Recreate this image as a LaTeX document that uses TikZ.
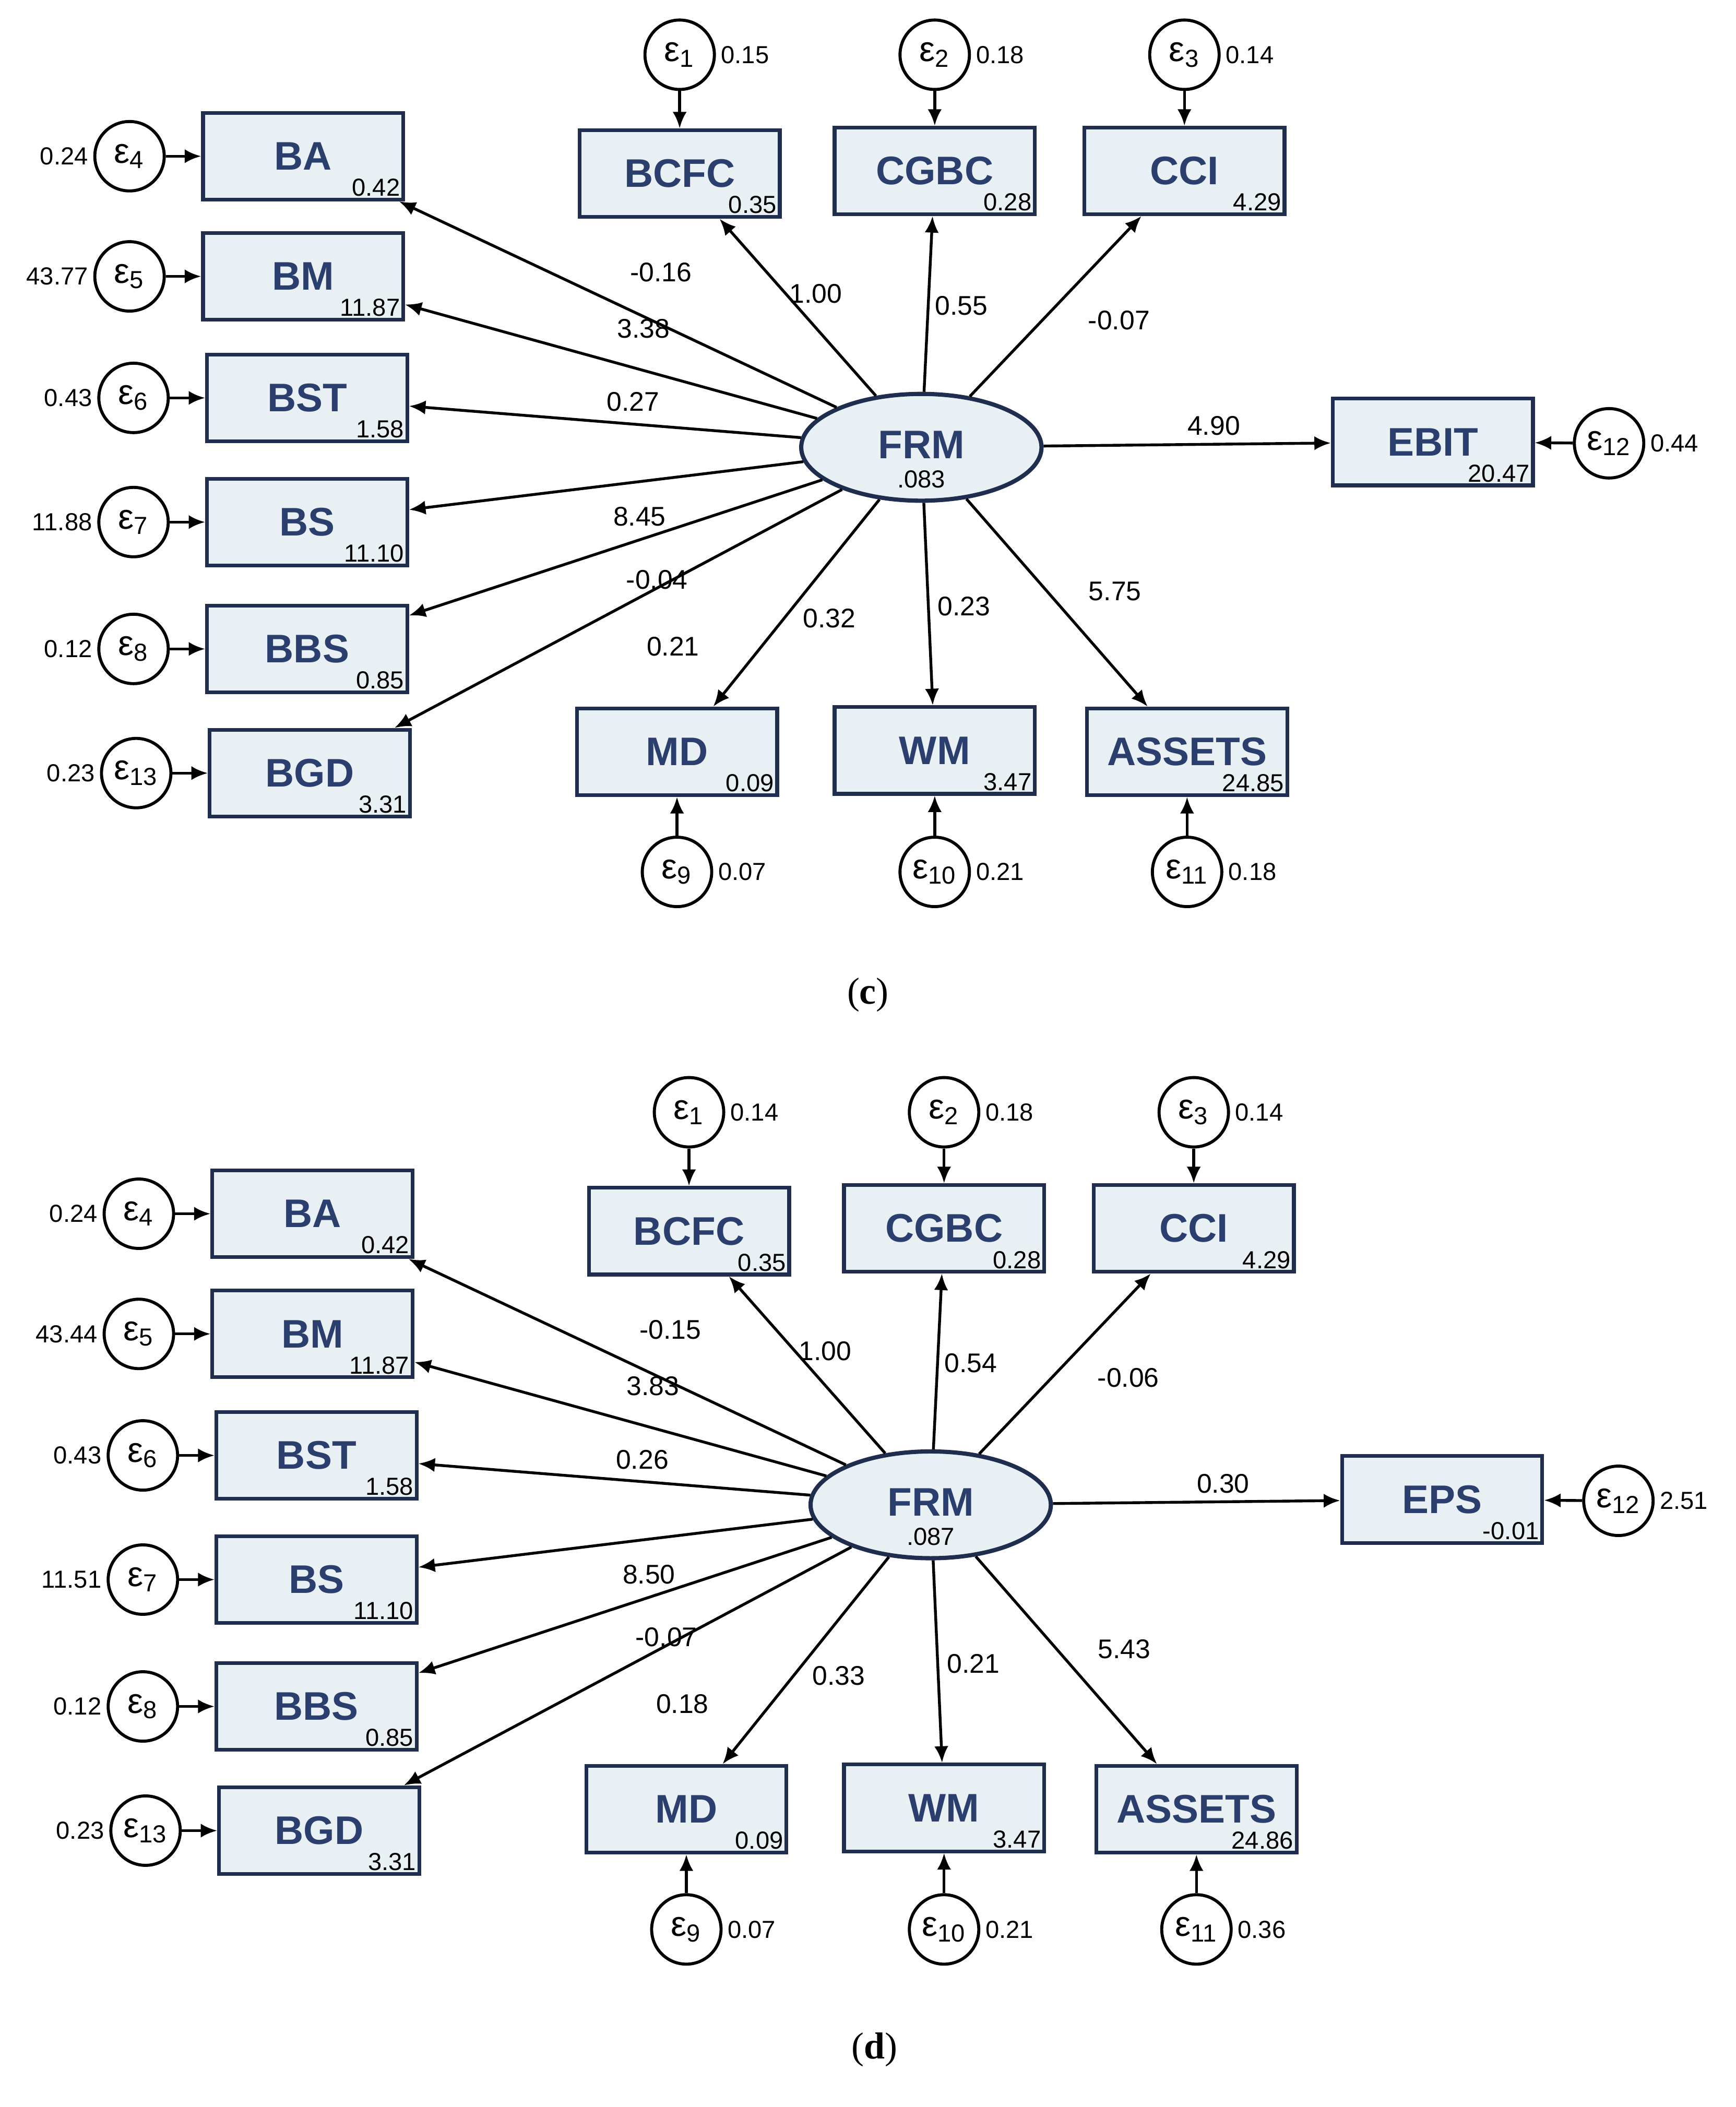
\documentclass[tikz,border=0pt]{standalone}
\usepackage{fontspec}
\setmainfont{Liberation Sans}
\newfontfamily\capfont{Liberation Serif}
\usetikzlibrary{shapes.geometric, arrows.meta}
\definecolor{boxfill}{HTML}{E9F0F4}
\definecolor{boxline}{HTML}{1F2E4E}
\definecolor{boxtext}{HTML}{2B3F6E}
\tikzstyle{var} = [rectangle, draw=boxline, line width=1.6pt, fill=boxfill, minimum width=3cm, minimum height=1.3cm, font=\bfseries\fontsize{17}{17}\selectfont, text=boxtext]
\tikzstyle{lat} = [ellipse, draw=boxline, line width=1.8pt, fill=boxfill, minimum width=3.6cm, minimum height=1.6cm]
\tikzstyle{err} = [circle, draw, line width=1.3pt, fill=white, minimum size=1.04cm, inner sep=0, font=\fontsize{15}{15}\selectfont]
\tikzstyle{num} = [font=\fontsize{10.5}{10.5}\selectfont, inner sep=2pt]
\tikzstyle{lab} = [font=\fontsize{11.5}{11.5}\selectfont, inner sep=1pt]
\tikzstyle{line} = [draw, line width=1.2pt, -{Latex[length=7pt,width=6pt]}]

\begin{document}
\begin{tikzpicture}[x=0.02cm, y=-0.02cm]
\useasboundingbox (0,0) rectangle (1300,1578);

% panel (c)
\begin{scope}[name prefix=c-]
\node [lat] (frm) at (690,335) {};
\node [font=\bfseries\fontsize{17}{17}\selectfont, text=boxtext] (frmt) at (690,333) {FRM};
\node [num] (frmv) at (690,359) {.083};

\foreach \n/\y/\v/\e/\ev/\bx in {BA/117/0.42/4/0.24/227, BM/207/11.87/5/43.77/227, BST/298/1.58/6/0.43/230, BS/391/11.10/7/11.88/230, BBS/486/0.85/8/0.12/230, BGD/579/3.31/13/0.23/232}
{
  \node [var] (\n) at (\bx,\y) {\n\hspace{1.2em}};
  \node [num, anchor=south east] (\n-v) at (\n.south east) {\v};
  \node [err] (e\e) at ({\bx-130},\y) {ε\textsubscript{\e}};
  \node [num, anchor=east] (e\e-v) at (e\e.west) {\ev};
  \path [line] (e\e) -- (\n);
}
\foreach \n/\x/\y/\v/\e/\ev in {BCFC/509/130/0.35/1/0.15, CGBC/700/128/0.28/2/0.18, CCI/887/128/4.29/3/0.14}
{
  \node [var] (\n) at (\x,\y) {\n};
  \node [num, anchor=south east] (\n-v) at (\n.south east) {\v};
  \node [err] (e\e) at (\x,41) {ε\textsubscript{\e}};
  \node [num, anchor=west] (e\e-v) at (e\e.east) {\ev};
  \path [line] (e\e) -- (\n);
}
\foreach \n/\x/\y/\v/\e/\ev in {MD/507/563/0.09/9/0.07, WM/700/562/3.47/10/0.21, ASSETS/889/563/24.85/11/0.18}
{
  \node [var] (\n) at (\x,\y) {\n};
  \node [num, anchor=south east] (\n-v) at (\n.south east) {\v};
  \node [err] (e\e) at (\x,653) {ε\textsubscript{\e}};
  \node [num, anchor=west] (e\e-v) at (e\e.east) {\ev};
  \path [line] (e\e) -- (\n);
}
\node [var] (EBIT) at (1073,331) {EBIT\hspace{1.2em}};
\node [num, anchor=south east] (EBIT-v) at (EBIT.south east) {20.47};
\node [err] (e12) at (1205,332) {ε\textsubscript{12}};
\node [num, anchor=west] (e12-v) at (e12.east) {0.44};
\path [line] (e12) -- (EBIT);

\foreach \n/\l/\x/\y in {BA/-0.16/495/204, BM/3.38/482/246, BST/0.27/474/301, BS/8.45/479/387, BBS/-0.04/492/434, BGD/0.21/504/484, BCFC/1.00/611/220, CGBC/0.55/720/229, CCI/-0.07/838/240, EBIT/4.90/909/319, MD/0.32/621/463, WM/0.23/722/454, ASSETS/5.75/835/443}
{
  \path [line] (frm) -- (\n);
  \node [lab] (l-\n) at (\x,\y) {\l};
}
\node [font=\capfont\fontsize{16}{16}\selectfont] (cap) at (650,745) {(\textbf{c})};
\end{scope}

% panel (d)
\begin{scope}[shift={(7,792)}, name prefix=d-]
\node [lat] (frm) at (690,335) {};
\node [font=\bfseries\fontsize{17}{17}\selectfont, text=boxtext] (frmt) at (690,333) {FRM};
\node [num] (frmv) at (690,359) {.087};

\foreach \n/\y/\v/\e/\ev/\bx in {BA/117/0.42/4/0.24/227, BM/207/11.87/5/43.44/227, BST/298/1.58/6/0.43/230, BS/391/11.10/7/11.51/230, BBS/486/0.85/8/0.12/230, BGD/579/3.31/13/0.23/232}
{
  \node [var] (\n) at (\bx,\y) {\n\hspace{1.2em}};
  \node [num, anchor=south east] (\n-v) at (\n.south east) {\v};
  \node [err] (e\e) at ({\bx-130},\y) {ε\textsubscript{\e}};
  \node [num, anchor=east] (e\e-v) at (e\e.west) {\ev};
  \path [line] (e\e) -- (\n);
}
\foreach \n/\x/\y/\v/\e/\ev in {BCFC/509/130/0.35/1/0.14, CGBC/700/128/0.28/2/0.18, CCI/887/128/4.29/3/0.14}
{
  \node [var] (\n) at (\x,\y) {\n};
  \node [num, anchor=south east] (\n-v) at (\n.south east) {\v};
  \node [err] (e\e) at (\x,41) {ε\textsubscript{\e}};
  \node [num, anchor=west] (e\e-v) at (e\e.east) {\ev};
  \path [line] (e\e) -- (\n);
}
\foreach \n/\x/\y/\v/\e/\ev in {MD/507/563/0.09/9/0.07, WM/700/562/3.47/10/0.21, ASSETS/889/563/24.86/11/0.36}
{
  \node [var] (\n) at (\x,\y) {\n};
  \node [num, anchor=south east] (\n-v) at (\n.south east) {\v};
  \node [err] (e\e) at (\x,653) {ε\textsubscript{\e}};
  \node [num, anchor=west] (e\e-v) at (e\e.east) {\ev};
  \path [line] (e\e) -- (\n);
}
\node [var] (EPS) at (1073,331) {EPS\hspace{1.2em}};
\node [num, anchor=south east] (EPS-v) at (EPS.south east) {-0.01};
\node [err] (e12) at (1205,332) {ε\textsubscript{12}};
\node [num, anchor=west] (e12-v) at (e12.east) {2.51};
\path [line] (e12) -- (EPS);

\foreach \n/\l/\x/\y in {BA/-0.15/495/204, BM/3.83/482/246, BST/0.26/474/301, BS/8.50/479/387, BBS/-0.07/492/434, BGD/0.18/504/484, BCFC/1.00/611/220, CGBC/0.54/720/229, CCI/-0.06/838/240, EPS/0.30/909/319, MD/0.33/621/463, WM/0.21/722/454, ASSETS/5.43/835/443}
{
  \path [line] (frm) -- (\n);
  \node [lab] (l-\n) at (\x,\y) {\l};
}
\node [font=\capfont\fontsize{16}{16}\selectfont] (cap) at (648,743) {(\textbf{d})};
\end{scope}
\end{tikzpicture}
\end{document}
